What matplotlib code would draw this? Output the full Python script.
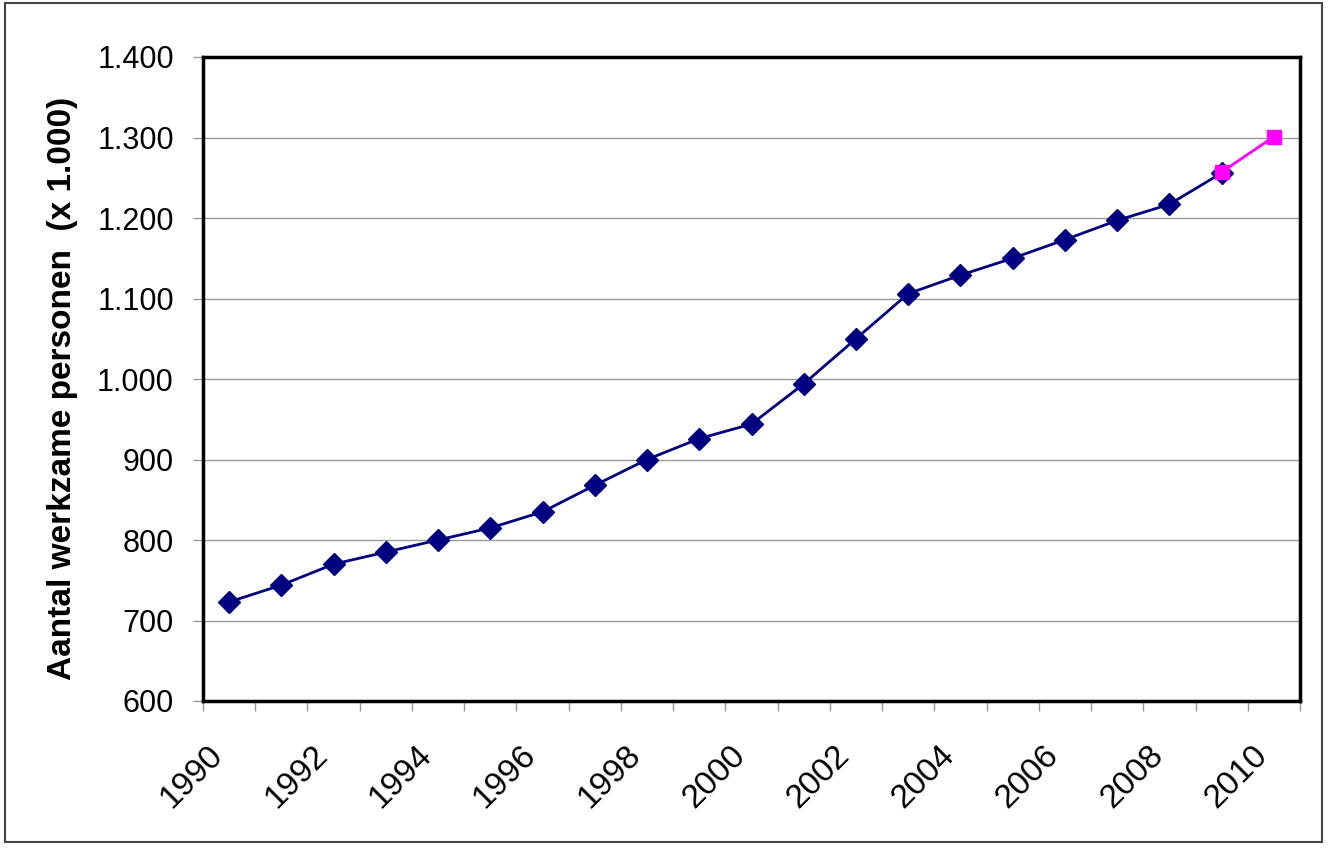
import matplotlib.pyplot as plt
import numpy as np
from matplotlib.patches import Rectangle
from matplotlib.ticker import FuncFormatter
from matplotlib.transforms import ScaledTranslation

plt.rcParams['font.family'] = ['Liberation Sans', 'DejaVu Sans']

years = list(range(1990, 2011))
werkzaam = [723, 744, 770, 785, 800, 815, 835, 868, 900, 926, 944,
            994, 1050, 1106, 1129, 1150, 1173, 1197, 1217, 1256]
prognose_years = [2009, 2010]
prognose = [1257, 1301]

fig = plt.figure(figsize=(13.29, 8.48), dpi=100)
ax = fig.add_axes([203 / 1329, 1 - 701 / 848, 1097 / 1329, 644 / 848])

# category axis: point i sits in the middle of slot i
x = np.arange(len(werkzaam)) + 0.5
xp = np.array([years.index(y) for y in prognose_years]) + 0.5

ax.plot(x, werkzaam, color='#000080', lw=2, marker='D', ms=11,
        mec='#000080', mfc='#000080', zorder=3)
ax.plot(xp, prognose, color='#ff00ff', lw=2, marker='s', ms=10,
        mec='#ff00ff', mfc='#ff00ff', zorder=4)

ax.set_xlim(0, len(years))
ax.set_ylim(600, 1400)
ax.set_yticks(np.arange(600, 1401, 100))
ax.yaxis.set_major_formatter(FuncFormatter(lambda v, p: f'{int(v):,}'.replace(',', '.')))
ax.grid(axis='y', color='#999999', lw=1)
ax.set_axisbelow(True)

# ticks at slot boundaries, labels every other year at slot centres
ax.set_xticks(np.arange(0, len(years) + 1))
ax.set_xticklabels([])
ax.set_xticks(np.arange(0, len(years), 2) + 0.5, minor=True)
ax.set_xticklabels([str(y) for y in years[::2]], minor=True)
ax.tick_params(axis='x', which='major', length=7, color='#999999', width=1)
ax.tick_params(axis='x', which='minor', length=0, pad=28, labelsize=24,
               labelrotation=45)
ax.tick_params(axis='y', length=7, color='#999999', width=1, labelsize=22, pad=14)

# after tick_params, otherwise the transform gets reset
shift = ScaledTranslation(-22 / 100, 0, fig.dpi_scale_trans)
for lbl in ax.get_xticklabels(minor=True):
    lbl.set_ha('right')
    lbl.set_va('top')
    lbl.set_rotation_mode('anchor')
    lbl.set_transform(lbl.get_transform() + shift)

for s in ax.spines.values():
    s.set_linewidth(2.5)
    s.set_color('black')

ax.set_ylabel('Aantal werkzame personen  (x 1.000)', fontsize=24,
              fontweight='bold')
ax.yaxis.set_label_coords(-0.1135, 0.485)

fig.patches.append(Rectangle((5 / 1329, 1 - 842 / 848), 1317 / 1329, 839 / 848,
                             transform=fig.transFigure, fill=False,
                             edgecolor='#444444', lw=1.5))

fig.savefig('out.png', dpi=100)
